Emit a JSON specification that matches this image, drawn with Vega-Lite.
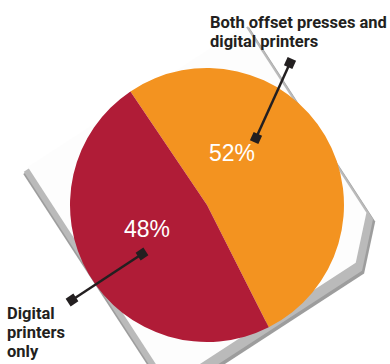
{
  "$schema": "https://vega.github.io/schema/vega-lite/v6.json",
  "width": 390,
  "height": 364,
  "autosize": {"type": "none"},
  "padding": 0,
  "background": "white",
  "config": {"view": {"stroke": null}},
  "datasets": {
    "shares": [
      {"category": "Both offset presses and digital printers", "share": 52, "order": 1},
      {"category": "Digital printers only", "share": 48, "order": 2}
    ],
    "ends": [
      {"callout": "both", "x": 256, "y": 138},
      {"callout": "both", "x": 290, "y": 63},
      {"callout": "only", "x": 142, "y": 254},
      {"callout": "only", "x": 72, "y": 300}
    ],
    "percent": [
      {"label": "52%", "x": 232, "y": 161},
      {"label": "48%", "x": 147, "y": 237}
    ],
    "names": [
      {"label": "Both offset presses and\ndigital printers", "x": 210, "y": 28},
      {"label": "Digital\nprinters\nonly", "x": 7, "y": 319}
    ],
    "center": [{"x": 207, "y": 205}]
  },
  "layer": [
    {
      "data": {"name": "center"},
      "mark": {"type": "point", "shape": "M-1,-1L1,-1L1,0.72L0.72,1L-1,1Z", "size": 72500, "angle": -33, "filled": true, "fill": "#3c3c3c", "opacity": 0.5, "strokeWidth": 0, "xOffset": 2.5, "yOffset": 8.5},
      "encoding": {
        "x": {"field": "x", "type": "quantitative", "scale": {"domain": [0, 390], "nice": false, "zero": false}, "axis": null},
        "y": {"field": "y", "type": "quantitative", "scale": {"domain": [0, 364], "nice": false, "zero": false, "reverse": true}, "axis": null}
      }
    },
    {
      "data": {"name": "center"},
      "mark": {"type": "point", "shape": "M-1,-1L1,-1L1,0.72L0.72,1L-1,1Z", "size": 71400, "angle": -33, "filled": true, "fill": "#bababa", "opacity": 1, "strokeWidth": 0, "xOffset": 1.6, "yOffset": 6.1},
      "encoding": {
        "x": {"field": "x", "type": "quantitative"},
        "y": {"field": "y", "type": "quantitative"}
      }
    },
    {
      "data": {"name": "center"},
      "mark": {"type": "point", "shape": "M-1,-1L1,-1L1,0.72L0.72,1L-1,1Z", "size": 67100, "angle": -33, "filled": true, "fill": "#fdfdfd", "opacity": 1, "strokeWidth": 0},
      "encoding": {
        "x": {"field": "x", "type": "quantitative"},
        "y": {"field": "y", "type": "quantitative"}
      }
    },
    {
      "data": {"name": "shares"},
      "mark": {"type": "arc", "outerRadius": 137},
      "encoding": {
        "x": {"datum": 207, "type": "quantitative"},
        "y": {"datum": 205, "type": "quantitative"},
        "theta": {"field": "share", "type": "quantitative", "stack": true, "scale": {"range": [-0.593, 5.690]}},
        "order": {"field": "order", "type": "quantitative"},
        "color": {"field": "category", "type": "nominal", "scale": {"domain": ["Both offset presses and digital printers", "Digital printers only"], "range": ["#f39320", "#b01c37"]}, "legend": null}
      }
    },
    {
      "data": {"name": "ends"},
      "mark": {"type": "line", "color": "#231f20", "strokeWidth": 2.5},
      "encoding": {
        "x": {"field": "x", "type": "quantitative"},
        "y": {"field": "y", "type": "quantitative"},
        "detail": {"field": "callout", "type": "nominal"}
      }
    },
    {
      "data": {"name": "ends"},
      "mark": {"type": "point", "shape": "square", "filled": true, "color": "#231f20", "opacity": 1, "size": 85},
      "encoding": {
        "x": {"field": "x", "type": "quantitative"},
        "y": {"field": "y", "type": "quantitative"},
        "angle": {"field": "callout", "type": "nominal", "scale": {"domain": ["both", "only"], "range": [24, -33]}, "legend": null}
      }
    },
    {
      "data": {"name": "percent"},
      "mark": {"type": "text", "font": "Liberation Sans", "fontSize": 23, "color": "#ffffff", "align": "center", "baseline": "alphabetic"},
      "encoding": {
        "x": {"field": "x", "type": "quantitative"},
        "y": {"field": "y", "type": "quantitative"},
        "text": {"field": "label"}
      }
    },
    {
      "data": {"name": "names"},
      "mark": {"type": "text", "font": "Roboto", "fontWeight": "bold", "fontSize": 16.5, "lineHeight": 19, "lineBreak": "\n", "color": "#231f20", "align": "left", "baseline": "alphabetic"},
      "encoding": {
        "x": {"field": "x", "type": "quantitative"},
        "y": {"field": "y", "type": "quantitative"},
        "text": {"field": "label"}
      }
    }
  ]
}
